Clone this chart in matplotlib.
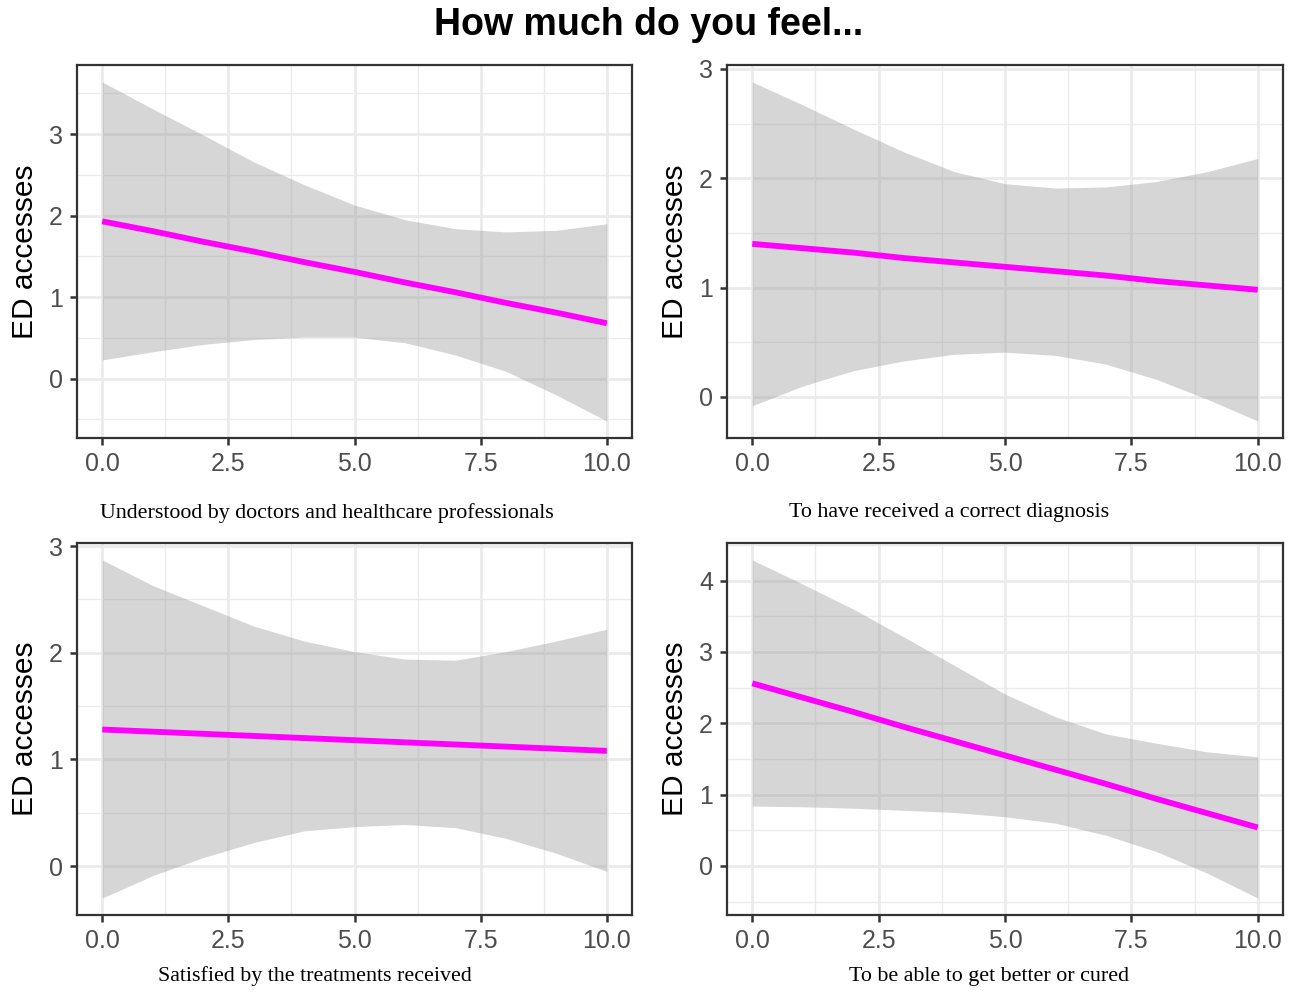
import numpy as np
import matplotlib
matplotlib.use("Agg")
import matplotlib.pyplot as plt
from matplotlib.ticker import MultipleLocator

plt.rcParams['font.family'] = ['Liberation Sans', 'DejaVu Sans']

##### Data #####
x_vals = [0, 1, 2, 3, 4, 5, 6, 7, 8, 9, 10]

# Understood by doctors and healthcare professionals
fit_understood = [1.93, 1.81, 1.68, 1.56, 1.43, 1.31, 1.18, 1.06, 0.93, 0.81, 0.68]
upper_understood = [3.64, 3.31, 2.99, 2.66, 2.38, 2.13, 1.95, 1.84, 1.80, 1.82, 1.90]
lower_understood = [0.23, 0.33, 0.42, 0.48, 0.51, 0.51, 0.44, 0.29, 0.09, -0.20, -0.52]

# To have received a correct diagnosis
fit_diagnosis = [1.40, 1.36, 1.32, 1.27, 1.23, 1.19, 1.15, 1.11, 1.06, 1.02, 0.98]
upper_diagnosis = [2.88, 2.67, 2.45, 2.24, 2.06, 1.95, 1.91, 1.92, 1.97, 2.06, 2.18]
lower_diagnosis = [-0.08, 0.10, 0.24, 0.33, 0.39, 0.41, 0.38, 0.30, 0.16, -0.02, -0.22]

# Satisfied by the treatments received
fit_satisfied = [1.28, 1.26, 1.24, 1.22, 1.20, 1.18, 1.16, 1.14, 1.12, 1.10, 1.08]
upper_satisfied = [2.87, 2.63, 2.44, 2.25, 2.11, 2.01, 1.94, 1.93, 2.01, 2.11, 2.22]
lower_satisfied = [-0.30, -0.09, 0.08, 0.22, 0.33, 0.37, 0.39, 0.36, 0.26, 0.12, -0.05]

# To be able to get better or cured
fit_cured = [2.56, 2.36, 2.16, 1.95, 1.75, 1.55, 1.35, 1.15, 0.94, 0.74, 0.54]
upper_cured = [4.29, 3.95, 3.60, 3.21, 2.81, 2.41, 2.09, 1.85, 1.72, 1.60, 1.53]
lower_cured = [0.84, 0.83, 0.81, 0.78, 0.75, 0.69, 0.60, 0.43, 0.20, -0.10, -0.45]

panel_labels = [
    "Understood by doctors and healthcare professionals",
    "To have received a correct diagnosis",
    "Satisfied by the treatments received",
    "To be able to get better or cured",
]
panel_fits = [fit_understood, fit_diagnosis, fit_satisfied, fit_cured]
panel_uppers = [upper_understood, upper_diagnosis, upper_satisfied, upper_cured]
panel_lowers = [lower_understood, lower_diagnosis, lower_satisfied, lower_cured]

W, H = 1297, 994
fig = plt.figure(figsize=(W / 100, H / 100), dpi=100)

# axes boxes in pixels: left, top, right, bottom
boxes = [(77, 65, 632, 438), (727, 65, 1283, 438),
         (77, 543, 632, 915), (727, 543, 1283, 915)]
# xlabel centers in pixels
label_pos = [(327, 513), (949, 513), (315, 976), (989, 976)]


def draw_panel(ax, fit, upper, lower):
    ax.fill_between(x_vals, lower, upper, color='#999999', alpha=0.4, linewidth=0, zorder=2)
    ax.plot(x_vals, fit, color='#FF00FF', linewidth=4.2, solid_capstyle='butt', zorder=3)

    ax.xaxis.set_major_locator(MultipleLocator(2.5))
    ax.xaxis.set_minor_locator(MultipleLocator(1.25))
    ax.yaxis.set_major_locator(MultipleLocator(1))
    ax.yaxis.set_minor_locator(MultipleLocator(0.5))
    ax.xaxis.set_major_formatter(plt.FuncFormatter(lambda v, p: f"{v:.1f}"))
    ax.yaxis.set_major_formatter(plt.FuncFormatter(lambda v, p: f"{v:.0f}"))

    ax.grid(which='major', color='#EBEBEB', linewidth=2.0, zorder=0)
    ax.grid(which='minor', color='#EBEBEB', linewidth=1.0, zorder=0)
    ax.set_axisbelow(True)

    for s in ax.spines.values():
        s.set_color('#333333')
        s.set_linewidth(1.6)
    ax.tick_params(which='major', length=5, width=1.8, color='#333333',
                   labelsize=18, labelcolor='#4D4D4D', pad=5)
    ax.tick_params(which='minor', length=0)

    ax.set_ylabel("ED accesses", fontsize=21.5, color='black', va='center')
    ax.yaxis.set_label_coords(-0.094, 0.5)


for i in range(4):
    l, t, r, b = boxes[i]
    ax = fig.add_axes([l / W, 1 - b / H, (r - l) / W, (b - t) / H])
    draw_panel(ax, panel_fits[i], panel_uppers[i], panel_lowers[i])
    lx, ly = label_pos[i]
    fig.text(lx / W, 1 - ly / H, panel_labels[i], ha='center', va='center',
             fontsize=15.8, family=['Liberation Serif', 'DejaVu Serif'])

fig.text(0.5, 1 - 25 / H, "How much do you feel...", ha='center', va='center',
         fontsize=27, fontweight='bold')

plt.savefig("out.png", dpi=100)
